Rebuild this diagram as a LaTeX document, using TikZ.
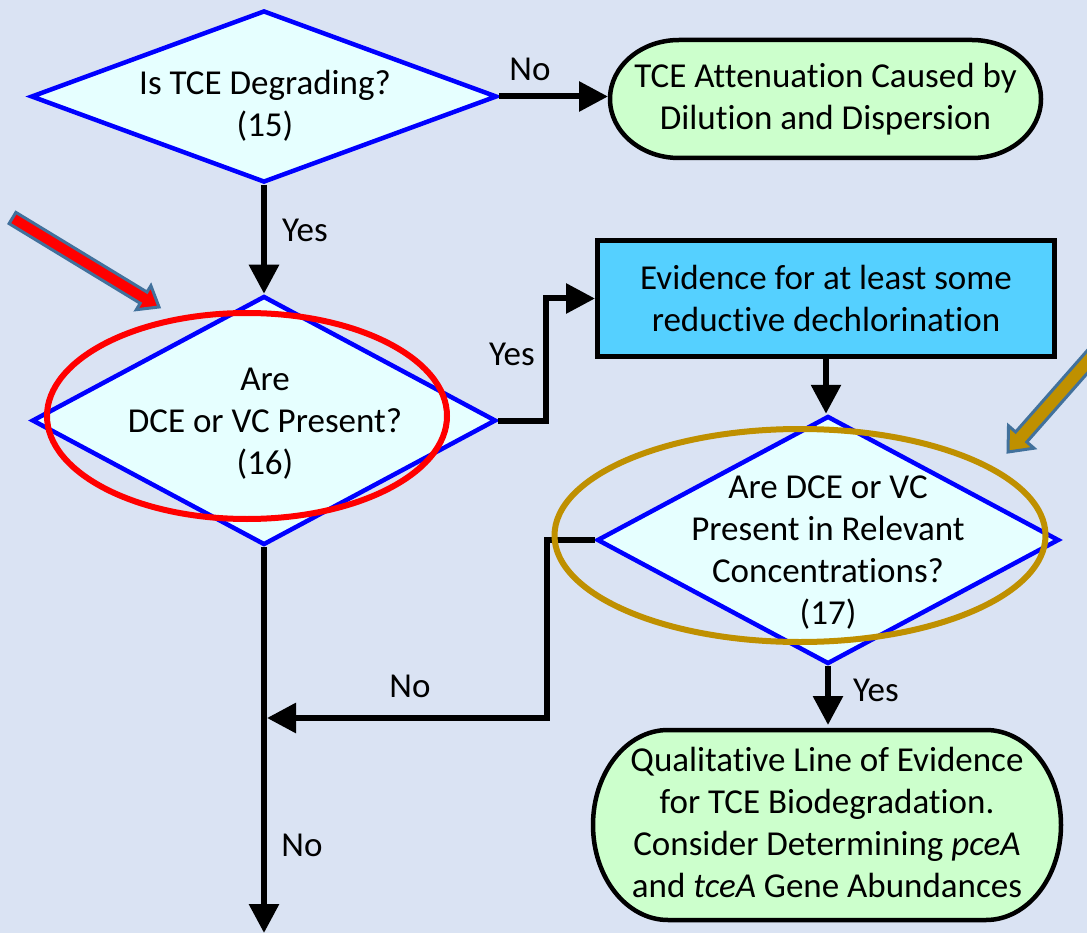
\documentclass[tikz,border=0pt]{standalone}
\usepackage{fontspec}
\setmainfont[Ligatures=CommonOff]{Carlito}
\usetikzlibrary{shapes.geometric,arrows.meta}

\definecolor{pagebg}{HTML}{DAE3F3}
\definecolor{decfill}{HTML}{E6FFFF}
\definecolor{decline}{HTML}{0000FF}
\definecolor{termfill}{HTML}{CCFFCC}
\definecolor{boxfill}{HTML}{55D0FF}
\definecolor{ringred}{HTML}{FF0000}
\definecolor{ringgold}{HTML}{BF9000}
\definecolor{pointeredge}{HTML}{41719C}

\tikzset{
  decision/.style={diamond, draw=decline, fill=decfill, line width=4.5pt, inner sep=0pt},
  caption/.style={align=center, inner sep=0pt},
  action/.style={rectangle, draw=black, fill=boxfill, line width=5pt, inner sep=0pt, align=center},
  terminal/.style={rectangle, inner sep=0pt, outer sep=2pt, align=center},
  termline/.style={draw=black, fill=termfill, line width=4.5pt},
  flow/.style={line width=6pt, -{Triangle[length=29pt,width=29pt]}},
  tag/.style={inner sep=0pt},
  ring/.style={ellipse, draw, line width=6pt, inner sep=0pt},
  pointer/.style={draw=pointeredge, line width=3pt, line join=miter},
}

\begin{document}
\begin{tikzpicture}[x=1pt, y=-1pt, font=\fontsize{35pt}{42pt}\selectfont]
  % page
  \fill[pagebg] (0,0) rectangle (1087,933);
  \useasboundingbox (0,0) rectangle (1087,933);
  \clip (0,0) rectangle (1087,933);

  % terminator outlines (rounded ends drawn as elliptical caps)
  \draw[termline] (679,40) -- (972,40)
    .. controls (1010.1,40) and (1041,66.4) .. (1041,99)
    .. controls (1041,131.6) and (1010.1,158) .. (972,158)
    -- (679,158)
    .. controls (640.9,158) and (610,131.6) .. (610,99)
    .. controls (610,66.4) and (640.9,40) .. (679,40) -- cycle;
  \draw[termline] (668,730) -- (986,730)
    .. controls (1027.4,730) and (1061,772.5) .. (1061,825)
    .. controls (1061,877.5) and (1027.4,920) .. (986,920)
    -- (668,920)
    .. controls (626.6,920) and (593,877.5) .. (593,825)
    .. controls (593,772.5) and (626.6,730) .. (668,730) -- cycle;

  % decisions
  \node[decision, minimum width=466pt, minimum height=172pt] (d1) at (264,96.5) {};
  \node[caption] (d1t) at (265,106) {Is TCE Degrading?\\(15)};
  \node[decision, minimum width=464pt, minimum height=249pt] (d2) at (264,420.5) {};
  \node[caption] (d2t) at (265,424) {Are\\DCE or VC Present?\\(16)};
  \node[decision, minimum width=462pt, minimum height=248pt] (d3) at (828,540) {};
  \node[caption] (d3t) at (828,553) {Are DCE or VC\\Present in Relevant\\Concentrations?\\(17)};

  % process box
  \node[action, minimum width=457pt, minimum height=116pt] (box) at (826,298.5)
    {Evidence for at least some\\reductive dechlorination};

  % terminators
  \node[terminal, minimum width=431pt, minimum height=118pt] (t1) at (825.5,99)
    {TCE Attenuation Caused by\\Dilution and Dispersion};
  \node[terminal, minimum width=468pt, minimum height=190pt] (t2) at (827,822)
    {Qualitative Line of Evidence\\for TCE Biodegradation.\\Consider Determining \textit{pceA}\\and \textit{tceA} Gene Abundances};

  % loose ends
  \coordinate (merge) at (267,718);
  \coordinate (exit) at (264,933);

  % connectors
  \draw[flow] (d1.east) -- (d1.east -| t1.west);
  \draw[flow] (d1.south) -- (d2.north);
  \draw[flow] (d2.east) -- ++(48,0) |- (box.west);
  \draw[flow] (box.south) -- (box.south |- d3.north);
  \draw[flow] (d3.west) -- ++(-48,0) |- (merge);
  \draw[flow] (d2.south) -- (exit);
  \draw[flow] (d3.south) -- (d3.south |- t2.north);

  % connector labels
  \node[tag] (lno1) at (530,69) {No};
  \node[tag] (lyes1) at (305,230) {Yes};
  \node[tag] (lyes2) at (512,354) {Yes};
  \node[tag] (lno2) at (410,686) {No};
  \node[tag] (lno3) at (302,845) {No};
  \node[tag] (lyes3) at (876,690) {Yes};

  % highlight rings
  \node[ring, draw=ringred, minimum width=400pt, minimum height=206pt] (ringa) at (247,416) {};
  \node[ring, draw=ringgold, minimum width=491pt, minimum height=213pt] (ringb) at (800,535.5) {};

  % pointer arrows
  \filldraw[pointer, fill=ringred]
    (9.1,223.6) -- (140.2,303.3) -- (136.3,309.7) -- (159,307)
    -- (150.9,285.7) -- (147.0,292.1) -- (15.9,212.4) -- cycle;
  \filldraw[pointer, fill=ringgold]
    (1125.8,329.5) -- (1026.8,442) -- (1034,448.2) -- (1008,452)
    -- (1008.5,425.8) -- (1015.6,432) -- (1114.6,319.5) -- cycle;
\end{tikzpicture}
\end{document}
